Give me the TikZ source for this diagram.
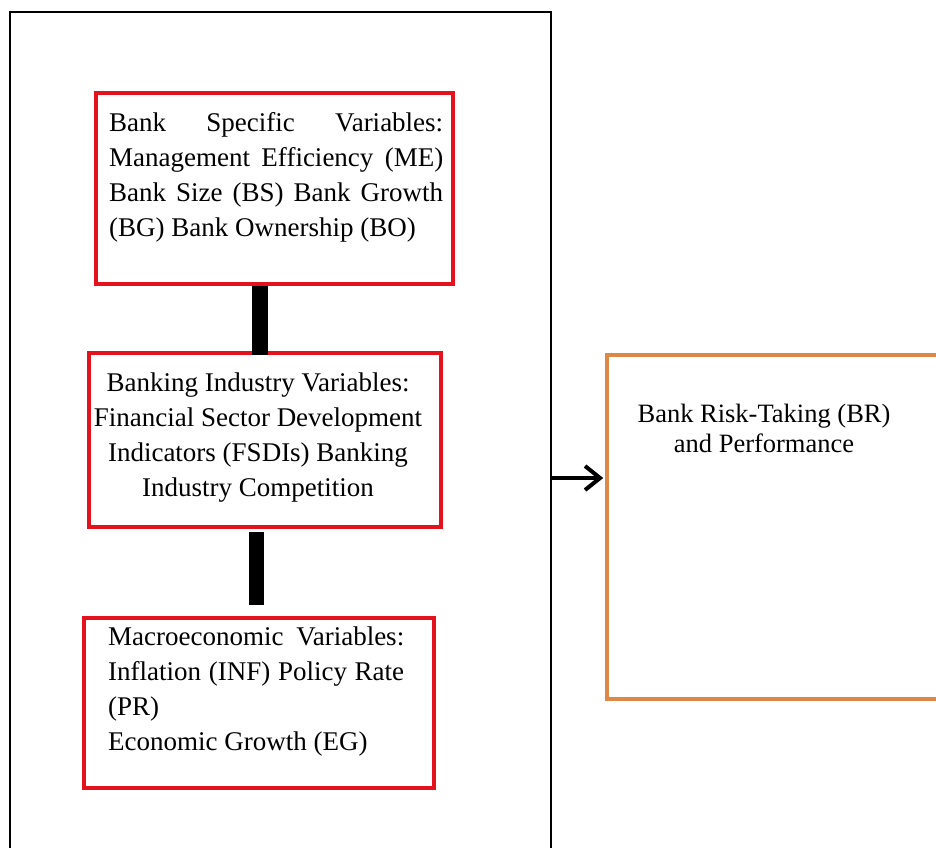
\documentclass[tikz,border=0pt]{standalone}
\usepackage{fontspec}
\setmainfont{Liberation Serif}
\usetikzlibrary{arrows.meta}
\definecolor{boxred}{RGB}{228,18,28}
\definecolor{boxorange}{RGB}{222,136,72}
\tikzset{
  redbox/.style={draw=boxred, line width=4pt, inner sep=0pt},
  orangebox/.style={draw=boxorange, line width=3.5pt, inner sep=0pt},
  frame/.style={draw=black, line width=2pt, inner sep=0pt},
  bar/.style={line width=15.5pt, draw=black, line cap=butt},
  arrowline/.style={line width=4pt, -{Straight Barb[length=15pt,width=24pt]}},
  txt/.style={inner sep=0pt, anchor=base west, font=\fontsize{27}{35}\selectfont},
}
\begin{document}
\begin{tikzpicture}[x=1pt,y=-1pt]
\useasboundingbox (0,0) rectangle (936,847);
\fill[white] (0,0) rectangle (936,847);
\clip (0,0) rectangle (936,847);

% outer frame (bottom edge falls outside the picture)
\node[frame, minimum width=541pt, minimum height=848pt] (frame) at (280.5,436) {};

% red boxes
\node[redbox, minimum width=357pt, minimum height=191pt] (b1) at (274.5,188.5) {};
\node[redbox, minimum width=352pt, minimum height=174pt] (b2) at (265,440) {};
\node[redbox, minimum width=350pt, minimum height=170pt] (b3) at (259,703) {};

% orange box (right edge falls outside the picture)
\node[orangebox, minimum width=343pt, minimum height=344pt] (br) at (778.5,527) {};

% texts
\node[txt] (t1) at (109,131) {\parbox[t]{334pt}{%
  \makebox[334pt][s]{Bank Specific Variables:}\\
  \makebox[334pt][s]{Management Efficiency (ME)}\\
  \makebox[334pt][s]{Bank Size (BS) Bank Growth}\\
  (BG) Bank Ownership (BO)}};

\node[txt, anchor=base] (t2) at (258,391) {\parbox[t]{350pt}{\centering
  Banking Industry Variables:\\
  Financial Sector Development\\
  Indicators (FSDIs) Banking\\
  Industry Competition}};

\node[txt] (t3) at (108,645) {\parbox[t]{300pt}{%
  \makebox[296pt][s]{Macroeconomic Variables:}\\
  \makebox[296pt][s]{Inflation (INF) Policy Rate}\\
  (PR)\\
  Economic Growth (EG)}};

\node[txt, anchor=base, font=\fontsize{26.5}{30}\selectfont] (t4) at (764,422) {\parbox[t]{320pt}{\centering
  Bank Risk-Taking (BR)\\
  and Performance}};

% vertical bars
\coordinate (c1) at ([xshift=-14.5pt]b1.south);
\draw[bar, shorten >=-4pt] (c1) -- (c1 |- b2.north);
\coordinate (c2) at ([xshift=-8.5pt]b2.south);
\draw[bar, shorten <=3pt, shorten >=11pt] (c2) -- (c2 |- b3.north);

% arrow
\coordinate (ay) at (0,478);
\draw[arrowline, shorten >=2pt] (frame.east |- ay) -- (br.west |- ay);
\end{tikzpicture}
\end{document}
